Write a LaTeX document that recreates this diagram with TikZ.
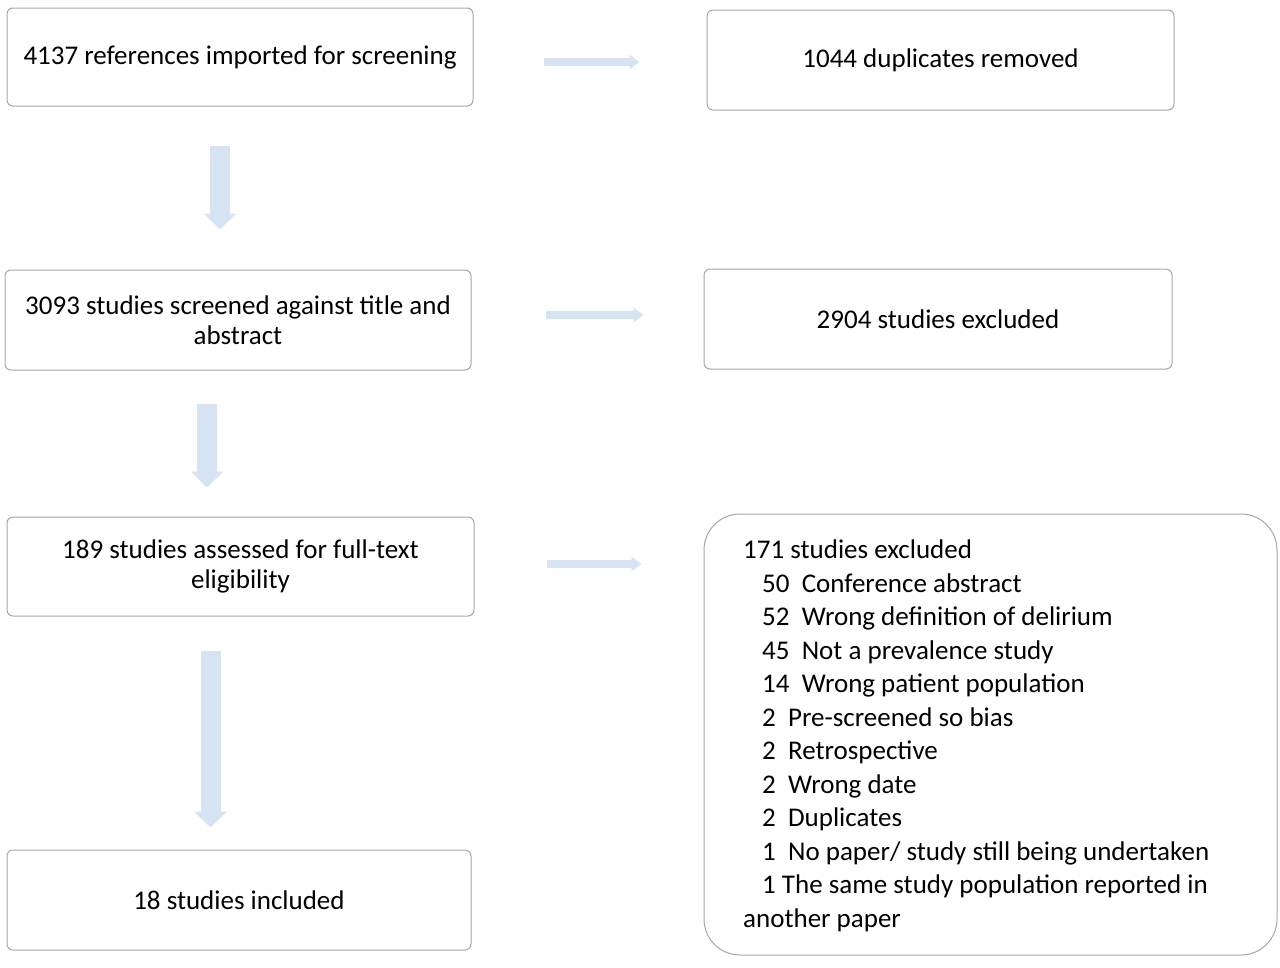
\documentclass[tikz,border=0pt]{standalone}
\usepackage{fontspec}
\setmainfont{Carlito}
\usetikzlibrary{arrows.meta,positioning,calc}
\tikzset{
  box/.style={draw=black!35, rounded corners=6pt, line width=1pt, fill=white},
  down/.style={color={rgb,255:red,214;green,227;blue,243}, line width=20pt, -{Triangle[width=32pt,length=16pt]}},
  side/.style={color={rgb,255:red,214;green,227;blue,243}, line width=8pt, -{Triangle[width=14pt,length=10pt]}}
}
\newcommand{\ind}{\hspace*{19pt}}
\begin{document}
\begin{tikzpicture}[x=1pt,y=-1pt, font=\fontsize{27}{30}\selectfont, inner sep=0pt]
\useasboundingbox (0,0) rectangle (1280,967);
% boxes
\node (imp) [box, minimum width=466pt, minimum height=98pt] at (240,57) {4137 references imported for screening};
\node (dup) [box, minimum width=467pt, minimum height=100pt] at (940.5,60) {1044 duplicates removed};
\node (scr) [box, minimum width=466pt, minimum height=100pt, align=center] at (238,320) {3093 studies screened against title and\\abstract};
\node (exc) [box, minimum width=468pt, minimum height=100pt] at (938,319) {2904 studies excluded};
\node (elig) [box, minimum width=467pt, minimum height=99pt, align=center] at (240.5,566.5) {189 studies assessed for full-text\\eligibility};
\node (full) [box, rounded corners=36pt, minimum width=573pt, minimum height=441pt] at (990.5,734.5) {};
\node (inc) [box, minimum width=464pt, minimum height=100pt] at (239,900) {18 studies included};
\node (list) [anchor=north west, align=left, font=\fontsize{27}{33.5}\selectfont] at (743,540) {171 studies excluded\\
  \ind 50\ \ Conference abstract\\
  \ind 52\ \ Wrong definition of delirium\\
  \ind 45\ \ Not a prevalence study\\
  \ind 14\ \ Wrong patient population\\
  \ind 2\ \ Pre-screened so bias\\
  \ind 2\ \ Retrospective\\
  \ind 2\ \ Wrong date\\
  \ind 2\ \ Duplicates\\
  \ind 1\ \ No paper/ study still being undertaken\\
  \ind 1 The same study population reported in\\
  another paper};
% arrows down
\draw[down, shorten <=39pt, shorten >=40pt] ([xshift=-20pt]imp.south) -- ([xshift=-20pt]imp.south |- scr.north);
\draw[down, shorten <=33pt, shorten >=29pt] ([xshift=-31pt]scr.south) -- ([xshift=-31pt]scr.south |- elig.north);
\draw[down, shorten <=34pt, shorten >=22pt] ([xshift=-30pt]elig.south) -- ([xshift=-30pt]elig.south |- inc.north);
% arrows right
\draw[side, shorten <=70pt, shorten >=67pt] ([yshift=-5pt]imp.east) -- ([yshift=-5pt]imp.east -| dup.west);
\draw[side, shorten <=74pt, shorten >=60pt] ([yshift=5pt]scr.east) -- ([yshift=5pt]scr.east -| exc.west);
\draw[side, shorten <=72pt, shorten >=62pt] ([yshift=2.5pt]elig.east) -- ([yshift=2.5pt]elig.east -| full.west);
\end{tikzpicture}
\end{document}
